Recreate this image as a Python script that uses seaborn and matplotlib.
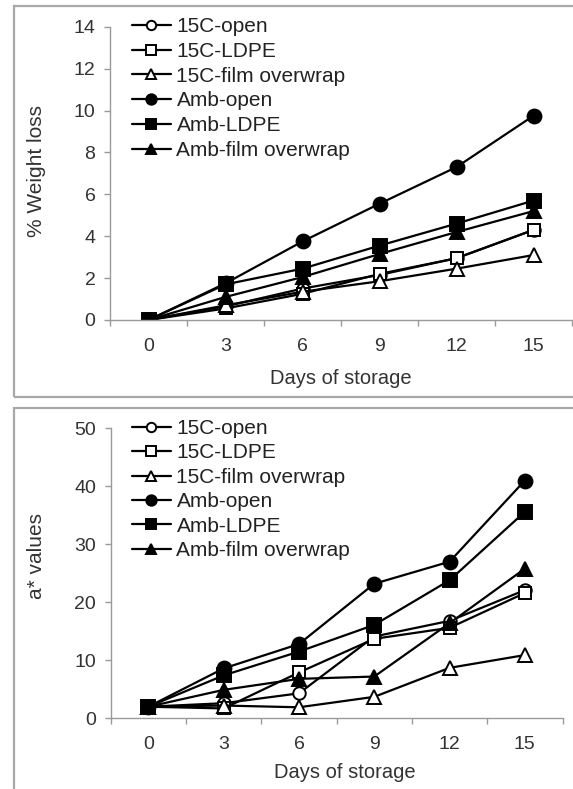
from matplotlib import pyplot as plt
from matplotlib.patches import Rectangle
from matplotlib.ticker import FixedLocator
import numpy as np
import pandas as pd
import seaborn as sns

##Data##
days = [0, 3, 6, 9, 12, 15]
series_names = ["15C-open", "15C-LDPE", "15C-film overwrap",
                "Amb-open", "Amb-LDPE", "Amb-film overwrap"]

# % weight loss
wl_15c_open = [0, 0.65, 1.5, 2.15, 2.95, 4.3]
wl_15c_ldpe = [0, 0.55, 1.25, 2.2, 2.95, 4.3]
wl_15c_film = [0, 0.7, 1.35, 1.85, 2.45, 3.1]
wl_amb_open = [0, 1.75, 3.75, 5.55, 7.3, 9.75]
wl_amb_ldpe = [0, 1.7, 2.45, 3.55, 4.6, 5.7]
wl_amb_film = [0, 1.1, 2.05, 3.15, 4.2, 5.2]

# a* values
a_15c_open = [2, 2.6, 4.3, 14.1, 16.8, 22.1]
a_15c_ldpe = [2, 1.7, 7.9, 13.7, 15.6, 21.6]
a_15c_film = [2, 2.2, 1.9, 3.7, 8.7, 10.9]
a_amb_open = [2, 8.6, 12.8, 23.2, 27.0, 41.0]
a_amb_ldpe = [2, 7.4, 11.5, 16.1, 23.8, 35.6]
a_amb_film = [2, 4.9, 6.8, 7.2, 16.4, 25.8]

weight_loss = [wl_15c_open, wl_15c_ldpe, wl_15c_film, wl_amb_open, wl_amb_ldpe, wl_amb_film]
a_values = [a_15c_open, a_15c_ldpe, a_15c_film, a_amb_open, a_amb_ldpe, a_amb_film]

markers = ["o", "s", "^", "o", "s", "^"]
filled = [False, False, False, True, True, True]

sns.set_theme(style="ticks")
plt.rcParams['font.family'] = ['Liberation Sans', 'DejaVu Sans']

W, H = 573, 789
fig = plt.figure(figsize=(W / 100, H / 100), dpi=100)
fig.patch.set_facecolor("white")

# panel frames (right / bottom edges run off the picture)
fig.add_artist(Rectangle((14 / W, 1 - 397 / H), 1.2, (397 - 6) / H,
                         transform=fig.transFigure, fill=False, ec="#a8a8a8", lw=1.6))
fig.add_artist(Rectangle((14 / W, -0.2), 1.2, 0.2 + 1 - 408 / H,
                         transform=fig.transFigure, fill=False, ec="#a8a8a8", lw=1.6))

ax1 = fig.add_axes([110 / W, 1 - 320 / H, (572 - 110) / W, (320 - 26.7) / H])
ax2 = fig.add_axes([110.7 / W, 1 - 718.3 / H, (562.5 - 110.7) / W, (718.3 - 428.3) / H])


def draw_panel(ax, data, ymax, ystep, ylabel, ylab_xy, xlab_xy, leg_xy, spacing):
    for name, vals, m, f in zip(series_names, data, markers, filled):
        sns.lineplot(x=days, y=vals, ax=ax, color="black", linewidth=1.6,
                     marker=m, markersize=10 if (f or m == "^") else 9,
                     markerfacecolor="black" if f else "white",
                     markeredgecolor="black", markeredgewidth=1.4,
                     label=name)
    ax.set_xlim(-1.5, 16.5)
    ax.set_ylim(0, ymax)
    ax.xaxis.set_major_locator(FixedLocator(days))
    ax.xaxis.set_minor_locator(FixedLocator(np.arange(-1.5, 17, 3)))
    ax.set_yticks(np.arange(0, ymax + 1, ystep))
    ax.tick_params(axis="x", which="major", length=0, pad=13, labelsize=14, labelcolor="#333333")
    ax.tick_params(axis="x", which="minor", length=4, width=1, color="#9a9a9a", direction="out")
    ax.tick_params(axis="y", length=4, width=1, color="#9a9a9a", pad=6.5,
                   labelsize=14, labelcolor="#333333", direction="out")
    for s in ["top", "right"]:
        ax.spines[s].set_visible(False)
    for s in ["left", "bottom"]:
        ax.spines[s].set_color("#9a9a9a")
        ax.spines[s].set_linewidth(1)
    ax.set_xlabel("Days of storage", fontsize=14.5, color="#333333", va="center")
    ax.set_ylabel(ylabel, fontsize=15, color="#333333", va="center")
    ax.xaxis.set_label_coords(*xlab_xy)
    ax.yaxis.set_label_coords(*ylab_xy)
    ax.legend(loc="upper left", bbox_to_anchor=leg_xy, bbox_transform=fig.transFigure,
              frameon=False, fontsize=15, borderpad=0, borderaxespad=0,
              handlelength=1.9, handletextpad=0.25, labelspacing=spacing,
              markerscale=0.75, labelcolor="#222222")
    ax.set_facecolor("white")


draw_panel(ax1, weight_loss, 14, 2, "% Weight loss",
           ((36 - 110) / 462, (320 - 171) / 293.3),
           (0.5, (320 - 378) / 293.3),
           (131.7 / W, 1 - 17 / H), 0.28)
draw_panel(ax2, a_values, 50, 10, "a* values",
           ((36 - 110.7) / 451.8, (718.3 - 556) / 290),
           ((345 - 110.7) / 451.8, (718.3 - 773) / 290),
           (131.7 / W, 1 - 419 / H), 0.26)

plt.savefig("out.png", dpi=100)
